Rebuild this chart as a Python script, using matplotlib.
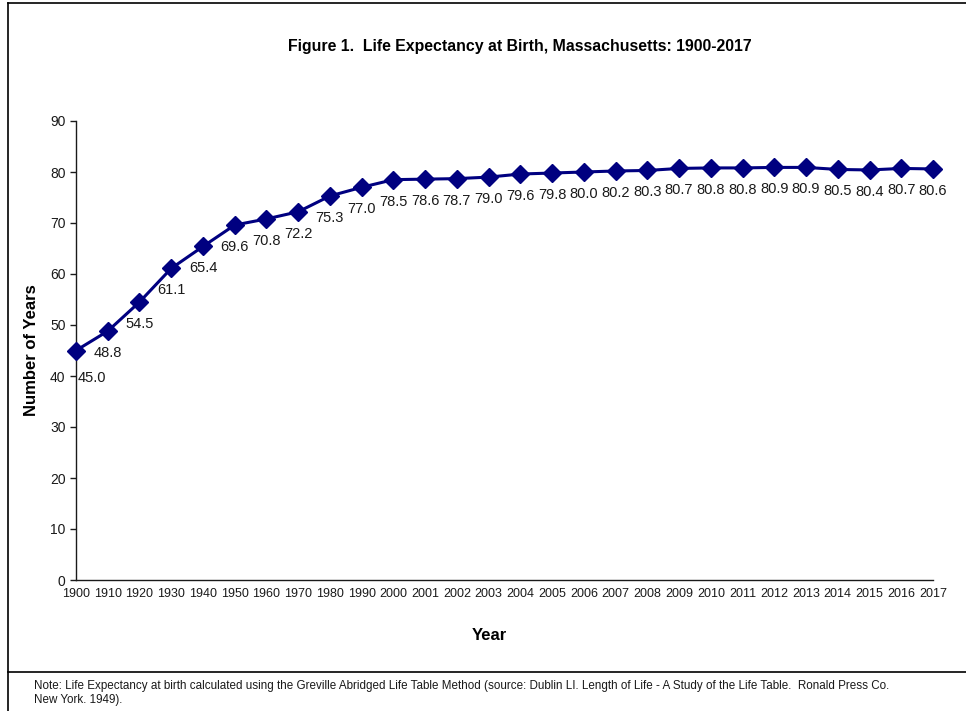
import matplotlib
matplotlib.use("Agg")
import matplotlib.pyplot as plt
from matplotlib.lines import Line2D

years = ["1900", "1910", "1920", "1930", "1940", "1950", "1960", "1970", "1980", "1990",
         "2000", "2001", "2002", "2003", "2004", "2005", "2006", "2007", "2008", "2009",
         "2010", "2011", "2012", "2013", "2014", "2015", "2016", "2017"]
life_exp = [45.0, 48.8, 54.5, 61.1, 65.4, 69.6, 70.8, 72.2, 75.3, 77.0,
            78.5, 78.6, 78.7, 79.0, 79.6, 79.8, 80.0, 80.2, 80.3, 80.7,
            80.8, 80.8, 80.9, 80.9, 80.5, 80.4, 80.7, 80.6]
y_ticks = [0, 10, 20, 30, 40, 50, 60, 70, 80, 90]

plt.rcParams['font.family'] = ['Liberation Sans', 'DejaVu Sans']

W, H = 966, 711
fig = plt.figure(figsize=(W / 100, H / 100), dpi=100)
ax = fig.add_axes([76 / W, 1 - 580 / H, (933 - 76) / W, (580 - 121) / H])

x = list(range(len(years)))
ax.plot(x, life_exp, color='#000080', lw=2.2, marker='D', markersize=9,
        markerfacecolor='#000080', markeredgecolor='#000080', clip_on=False, zorder=3)

for i, v in enumerate(life_exp):
    dx = 16 if i == 0 else 0
    dy = -27 if i == 0 else -22
    ax.annotate(f"{v:.1f}", (i, v), xytext=(dx * 0.72, dy * 0.72), textcoords='offset points',
                ha='center', va='center', fontsize=10.5, color='#1a1a1a')

ax.set_xlim(0, len(years) - 1)
ax.set_ylim(0, 90)
ax.set_yticks(y_ticks)
ax.set_xticks(x)
ax.set_xticklabels(years)
ax.tick_params(axis='x', length=0, pad=6, labelsize=9, colors='#1a1a1a')
ax.tick_params(axis='y', length=4.5, width=1, pad=3, labelsize=10, direction='out', colors='#1a1a1a')
for s in ['top', 'right']:
    ax.spines[s].set_visible(False)
for s in ['left', 'bottom']:
    ax.spines[s].set_color('#1a1a1a')
    ax.spines[s].set_linewidth(1)

fig.text(520 / W, 1 - 46 / H, "Figure 1.  Life Expectancy at Birth, Massachusetts: 1900-2017",
         ha='center', va='center', fontsize=11.4, fontweight='bold')
fig.text(32 / W, 1 - 350 / H, "Number of Years", rotation=90, ha='center', va='center',
         fontsize=12, fontweight='bold')
fig.text(489 / W, 1 - 635 / H, "Year", ha='center', va='center', fontsize=12, fontweight='bold')

fig.text(34 / W, 1 - 686 / H,
         "Note: Life Expectancy at birth calculated using the Greville Abridged Life Table Method "
         "(source: Dublin LI. Length of Life - A Study of the Life Table.  Ronald Press Co.",
         ha='left', va='center', fontsize=8.4, color='#1a1a1a')
fig.text(34 / W, 1 - 700 / H, "New York. 1949).", ha='left', va='center', fontsize=8.4, color='#1a1a1a')

# border lines
fig.add_artist(Line2D([8 / W, 8 / W], [0, 1 - 3 / H], transform=fig.transFigure, color='black', lw=1.2))
fig.add_artist(Line2D([8 / W, 1], [1 - 3 / H, 1 - 3 / H], transform=fig.transFigure, color='black', lw=1.2))
fig.add_artist(Line2D([8 / W, 1], [1 - 672 / H, 1 - 672 / H], transform=fig.transFigure, color='black', lw=1.2))

fig.savefig("out.png", dpi=100)
